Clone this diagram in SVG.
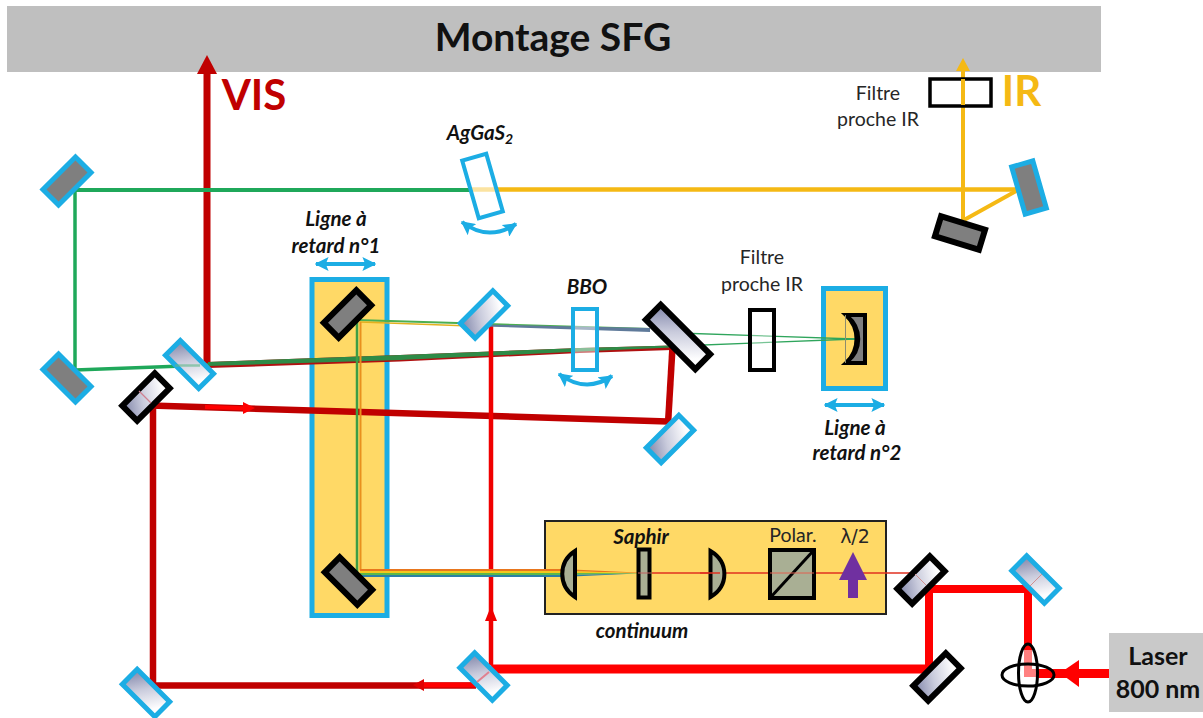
<svg xmlns="http://www.w3.org/2000/svg" width="1203" height="718" viewBox="0 0 1203 718">
<style>
text{font-family:Lato,"Open Sans","Liberation Sans",sans-serif;fill:#262626;text-anchor:middle}
.lab{font-size:19.500px}
.bi{font-size:20.500px;font-weight:700;font-style:italic;fill:#111}
.m{stroke-width:5;stroke-linejoin:miter}
.gb{fill:#7F7F7F;stroke:#1CADE4}
.gk{fill:#7F7F7F;stroke:#000;stroke-width:6}
.sb{fill:url(#sil);stroke:#1CADE4}
.sk{fill:url(#sil);stroke:#000;stroke-width:6}
.box{fill:#FFD966;stroke:#1CADE4;stroke-width:5}
.el{fill:#A9AF94;stroke:#000;stroke-width:4}
.b{fill:none;stroke-linecap:butt;stroke-linejoin:miter}
.sw{fill:none;stroke:#1CADE4;stroke-width:4}
</style>
<defs>
<linearGradient id="sil" x1="0" y1="0" x2="1" y2="0.300">
<stop offset="0" stop-color="#7F84A8"/><stop offset="0.5" stop-color="#C9CBDC"/><stop offset="1" stop-color="#FDFDFE"/>
</linearGradient>
<marker id="bh" viewBox="0 0 10 10" refX="9" refY="5" markerWidth="14" markerHeight="14" markerUnits="userSpaceOnUse" orient="auto-start-reverse"><path d="M0 0L10 5L0 10L2 5Z" fill="#1CADE4"/></marker>
</defs>
<rect width="1203" height="718" fill="#fff"/>
<g id="header"><rect x="7" y="6" width="1094" height="66" fill="#BFBFBF"/>
<text x="553" y="51" font-size="39" font-weight="700" style="fill:#111">Montage SFG</text></g>
<g id="laser"><rect x="1109" y="633" width="94" height="79" fill="#C9C9C9"/>
<text x="1158" y="665" font-size="25" font-weight="700" style="fill:#111">Laser</text>
<text x="1158" y="698" font-size="25" font-weight="700" style="fill:#111">800 nm</text></g>
<g id="delay-1"><rect class="box" x="312" y="279.500" width="75" height="336"/></g>
<g id="delay-2"><rect class="box" x="823.500" y="288.500" width="62" height="100"/></g>
<g id="continuum-box"><rect x="545" y="521" width="341" height="93" fill="#FFD966" stroke="#222" stroke-width="2"/></g>
<g id="connectors">
<path class="b" d="M207 364V70" stroke="#C00000" stroke-width="7"/>
<path d="M207 55L217 74H197Z" fill="#C00000"/>
<path class="b" d="M75 190H472" stroke="#1FA85A" stroke-width="4"/>
<path class="b" d="M472 189.500H1020" stroke="#F5B914" stroke-width="4.500"/>
<path class="b" d="M75 188V371" stroke="#1FA85A" stroke-width="3.500"/>
<path class="b" d="M75 370L210 365" stroke="#1FA85A" stroke-width="3.500"/>
<path d="M208 362L400 355L580 348L672 345.500V350L580 353L400 361.500L208 368Z" fill="#B01010"/>
<path d="M208 362L400 355L580 348L672 345.500V347.500L580 351.500L400 360L208 366Z" fill="#2E8B47"/>
<path class="b" d="M1018 190L964 220" stroke="#F5B914" stroke-width="4"/>
<path class="b" d="M963 220V68" stroke="#F5B914" stroke-width="4"/>
<path d="M963 58L970 71H956Z" fill="#F5B914"/>
<path class="b" d="M150 405.500L668 421.500" stroke="#C00000" stroke-width="6.500"/>
<path class="b" d="M205 407L250 408.500" stroke="#FF0000" stroke-width="4"/>
<path d="M255 408L243 402V414Z" fill="#FF0000"/>
<path class="b" d="M672.500 347L668 424" stroke="#C00000" stroke-width="6.500"/>
<path class="b" d="M153 403V687" stroke="#C00000" stroke-width="6.500"/>
<path class="b" d="M150 685.500H476" stroke="#C00000" stroke-width="6.500"/>
<path class="b" d="M420 685H476" stroke="#FF0000" stroke-width="5"/>
<path d="M413 685L424 679V691Z" fill="#E00000"/>
<path class="b" d="M491 665V326" stroke="#F00000" stroke-width="4.500"/>
<path d="M491 606L497 621H485Z" fill="#F00000"/>
<path class="b" d="M491 669H935" stroke="#FF0000" stroke-width="9"/>
<path class="b" d="M929 671V589H1028V650" stroke="#FF0000" stroke-width="8"/>
<path class="b" d="M1028 650V673H1038" stroke="#FF8080" stroke-width="8"/>
<path class="b" d="M1038 673.500H1109" stroke="#FF0000" stroke-width="9"/>
<path d="M1060 673L1079 660V687Z" fill="#FF0000"/>
<path class="b" d="M652 573H912" stroke="#E03020" stroke-width="1.500"/>
<path class="b" d="M356 320L457 323L650 329" stroke="#4CAF50" stroke-width="1.800"/>
<path class="b" d="M360 322L484 326.500" stroke="#E3B11F" stroke-width="1.500"/>
<path d="M484 324.500L650 328L650 332L484 326.500Z" fill="#5F7A9A"/>
<path class="b" d="M357 320V572" stroke="#3E9E45" stroke-width="2.500"/>
<path class="b" d="M360.500 322V570" stroke="#E8901E" stroke-width="2"/>
<path d="M360 569H562L637 572.600V573L562 571H360Z" fill="#E8761E"/>
<path d="M360 571H562L637 573V573.200L562 573H360Z" fill="#F2C81E"/>
<path d="M360 573H562L637 573.200V573.400L562 575H360Z" fill="#5CB848"/>
<path d="M360 575H562L637 573.400V573.600L562 577H360Z" fill="#2A7FA8"/>
<path class="b" d="M678 333L855 339" stroke="#2FA55C" stroke-width="1.300"/>
<path class="b" d="M678 346L855 339" stroke="#2FA55C" stroke-width="1.300"/>
</g>
<g id="mirror-tl"><rect class="m gb" x="44" y="170" width="46" height="22" transform="rotate(-45 67 181)"/></g>
<g id="mirror-bl"><rect class="m gb" x="44" y="367" width="46" height="22" transform="rotate(45 67 378)"/></g>
<g id="splitter-vis"><rect class="m sb" x="166" y="354" width="47" height="21" transform="rotate(45 189.500 364.500)"/><path d="M175 365.500H200" stroke="#5FB88A" stroke-width="2.500" opacity=".6"/></g>
<g id="mirror-k1"><rect class="m sk" x="123" y="386.500" width="46" height="21" transform="rotate(-45 146 397)"/><path d="M139 391L151 403" stroke="#D08090" stroke-width="1.200"/></g>
<g id="mirror-delay-top"><rect class="m gk" x="324.500" y="303.500" width="46" height="21" transform="rotate(-45 347.500 314)"/></g>
<g id="mirror-delay-bottom"><rect class="m gk" x="325.500" y="570.500" width="46" height="21" transform="rotate(45 348.500 581)"/></g>
<g id="splitter-top"><rect class="m sb" x="461" y="304" width="46" height="21" transform="rotate(-45 484 314.500)"/></g>
<g id="bbo"><rect x="573" y="309" width="24" height="61" fill="#fff" fill-opacity=".45" stroke="#1CADE4" stroke-width="4"/>
<path class="sw" d="M559 374Q586 394 612 376" marker-start="url(#bh)" marker-end="url(#bh)"/></g>
<g id="mirror-big"><rect class="m sk" x="643" y="326.500" width="70" height="21" transform="rotate(45 678 337)"/></g>
<g id="mirror-r"><rect class="m sb" x="647" y="428.500" width="46" height="21" transform="rotate(-45 670 439)"/></g>
<g id="filter-mid"><rect x="750" y="310" width="24" height="60" fill="#fff" fill-opacity=".35" stroke="#000" stroke-width="4"/></g>
<g id="concave"><path d="M846 315H865V363H846C860 350 860 328 846 315Z" fill="#7F7F7F" stroke="#000" stroke-width="4"/><path d="M847 316C862 328 862 350 847 362" fill="none" stroke="#000" stroke-width="4"/><path d="M845.500 315V363" stroke="#8C8C6E" stroke-width="1"/></g>
<g id="filter-ir"><rect x="930" y="79" width="61" height="27" fill="none" stroke="#000" stroke-width="3.500"/></g>
<path class="b" d="M963 105V79" stroke="#F5B914" stroke-width="4"/>
<g id="mirror-ir-1"><rect class="m gb" x="1018" y="163" width="22" height="49" transform="rotate(-16 1029 187.500)"/></g>
<g id="mirror-ir-2"><rect class="m gk" x="937" y="222.500" width="46" height="21" transform="rotate(17 960 233)"/></g>
<g id="ags"><rect x="470" y="156" width="25" height="60" fill="#fff" fill-opacity=".6" stroke="#1CADE4" stroke-width="4" transform="rotate(-16 482.500 186)"/>
<path class="sw" d="M462 222Q488 242 516 224" marker-start="url(#bh)" marker-end="url(#bh)"/></g>
<g id="lens-1"><path d="M575 551V597C558 586 558 562 575 551Z" class="el"/></g>
<g id="saphir"><rect x="638.500" y="549.500" width="11" height="48" class="el"/><path class="b" d="M638 573H651" stroke="#C06060" stroke-width="1"/></g>
<g id="lens-2"><path d="M710.500 551V597C729 586 729 562 710.500 551Z" class="el"/></g>
<path class="b" d="M700 573H720" stroke="#E03020" stroke-width="1.500"/>
<g id="polar"><rect x="770" y="550" width="44" height="48" class="el"/><path d="M770 598L814 550" stroke="#000" stroke-width="3"/><path class="b" d="M770 573H814" stroke="#E06050" stroke-width="1"/></g>
<g id="lambda"><path d="M853 552L867 580H858V598H848V580H839Z" fill="#7030A0"/></g>
<g id="mirror-m1"><rect class="m sk" x="898" y="569.500" width="46" height="21" transform="rotate(-45 921 580)"/><path d="M915 574L926 585" stroke="#D09090" stroke-width="1"/></g>
<g id="mirror-m2"><rect class="m sb" x="1012.500" y="569" width="46" height="21" transform="rotate(45 1035.500 579.500)"/><path d="M1030 586L1042 574" stroke="#D09090" stroke-width="1"/></g>
<g id="mirror-m3"><rect class="m sk" x="914" y="666.500" width="46" height="21" transform="rotate(-45 937 677)"/></g>
<g id="splitter-bottom"><rect class="m sb" x="460.500" y="666" width="46" height="21" transform="rotate(45 483.500 676.500)"/><path d="M477 682L489 672" stroke="#E08090" stroke-width="2"/></g>
<g id="mirror-b"><rect class="m sb" x="123" y="682.500" width="46" height="21" transform="rotate(45 146 693)"/></g>
<g id="lens-ellipses"><path d="M1020 686H1037" stroke="#8C8C8C" stroke-width="2"/><ellipse cx="1028" cy="675" rx="26" ry="11" fill="none" stroke="#000" stroke-width="3"/><ellipse cx="1028" cy="673" rx="9.500" ry="29" fill="none" stroke="#000" stroke-width="3"/></g>
<g id="labels">
<text x="254" y="110" font-size="42" font-weight="700" style="fill:#C00000">VIS</text>
<text x="1021.500" y="106" font-size="42" font-weight="700" style="fill:#F5B914">IR</text>
<text class="lab" x="878" y="100">Filtre</text><text class="lab" x="878" y="126">proche IR</text>
<text class="lab" x="762" y="264">Filtre</text><text class="lab" x="762" y="291">proche IR</text>
<text class="bi" x="480" y="140">AgGaS<tspan font-size="14" dy="4">2</tspan></text>
<text class="bi" x="336" y="226">Ligne à</text><text class="bi" x="336" y="253">retard n°1</text>
<text class="bi" x="587" y="294">BBO</text>
<text class="bi" x="855" y="435">Ligne à</text><text class="bi" x="857" y="460">retard n°2</text>
<text class="bi" x="641" y="544">Saphir</text><text class="bi" x="642" y="638">continuum</text>
<text class="lab" x="793" y="542">Polar.</text><text x="855" y="543" style="font-family:'DejaVu Sans',sans-serif;font-size:19px">λ/2</text>
</g>
<g id="travel-arrows">
<path d="M316 264H375" stroke="#1CADE4" stroke-width="4" marker-start="url(#bh)" marker-end="url(#bh)"/>
<path d="M825 405H884" stroke="#1CADE4" stroke-width="4" marker-start="url(#bh)" marker-end="url(#bh)"/>
</g>
</svg>
